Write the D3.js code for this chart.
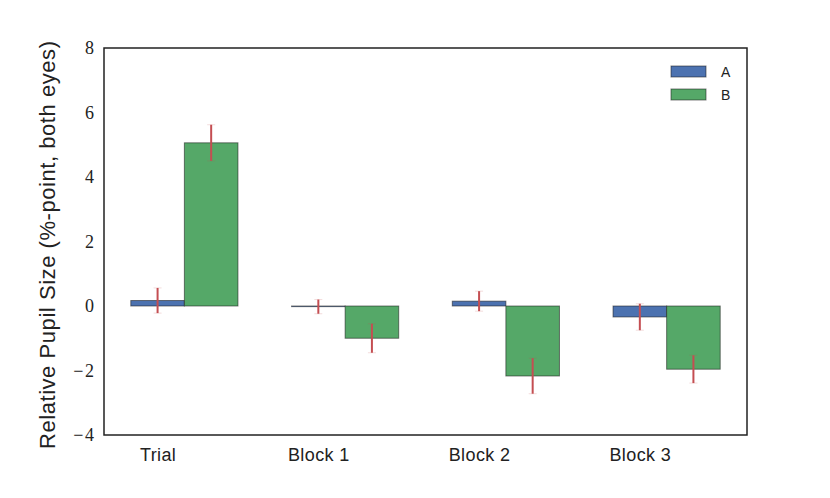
<!DOCTYPE html>
<html>
<head>
<meta charset="utf-8">
<script src="https://cdn.jsdelivr.net/npm/d3@7"></script>
<style>
  body { margin: 0; background: #fff; }
</style>
</head>
<body>
<script>
/* pupil size bar chart */

var categories = ["Trial", "Block 1", "Block 2", "Block 3"];
var seriesNames = ["A", "B"];
var valuesA = [0.17, -0.02, 0.15, -0.34];
var valuesB = [5.06, -1.0, -2.17, -1.96];
var errA = [0.39, 0.22, 0.31, 0.41];
var errB = [0.56, 0.45, 0.55, 0.43];
var yTicks = [-4, -2, 0, 2, 4, 6, 8];

var colors = ["#4C72B0", "#55A868"];
var errColor = "#C44E52";

var width = 830, height = 498;
var margin = {left: 104, right: 83, top: 48, bottom: 63};

var svg = d3.select("body").append("svg")
    .attr("width", width)
    .attr("height", height);

var w = 1 / 3;
var x = d3.scaleLinear()
    .domain([-w, categories.length - 1 + 2 * w])
    .range([margin.left, width - margin.right]);
var y = d3.scaleLinear()
    .domain([-4, 8])
    .range([height - margin.bottom, margin.top]);

var rows = [];
categories.forEach(function(c, i) {
    rows.push({i: i, s: 0, v: valuesA[i], e: errA[i]});
    rows.push({i: i, s: 1, v: valuesB[i], e: errB[i]});
});

svg.selectAll("rect.bar")
    .data(rows)
    .enter()
    .append("rect")
    .attr("class", "bar")
    .attr("x", function(d) { return x(d.i - w / 2 + d.s * w); })
    .attr("width", function(d) { return x(w) - x(0); })
    .attr("y", function(d) { return y(Math.max(0, d.v)); })
    .attr("height", function(d) { return Math.abs(y(d.v) - y(0)); })
    .attr("fill", function(d) { return colors[d.s]; })
    .attr("stroke", "#1a1a1a")
    .attr("stroke-opacity", 0.55)
    .attr("stroke-width", 1);

// error bars
var eb = svg.selectAll("g.err")
    .data(rows)
    .enter()
    .append("g")
    .attr("class", "err");

eb.append("line")
    .attr("x1", function(d) { return x(d.i + d.s * w); })
    .attr("x2", function(d) { return x(d.i + d.s * w); })
    .attr("y1", function(d) { return y(d.v + d.e); })
    .attr("y2", function(d) { return y(d.v - d.e); })
    .attr("stroke", errColor)
    .attr("stroke-width", 2);

[1, -1].forEach(function(sign) {
    eb.append("line")
        .attr("x1", function(d) { return x(d.i + d.s * w) - 4; })
        .attr("x2", function(d) { return x(d.i + d.s * w) + 4; })
        .attr("y1", function(d) { return y(d.v + sign * d.e); })
        .attr("y2", function(d) { return y(d.v + sign * d.e); })
        .attr("stroke", errColor)
        .attr("stroke-opacity", 0.2)
        .attr("stroke-width", 1);
});

// axes
var yAxis = svg.append("g")
    .attr("transform", "translate(" + margin.left + ",0)")
    .call(d3.axisLeft(y).tickValues(yTicks).tickSize(0).tickPadding(10)
        .tickFormat(function(d) { return d < 0 ? "\u2212\u200A" + Math.abs(d) : d; }));
yAxis.select(".domain").remove();
yAxis.selectAll("text")
    .style("font-family", "'Liberation Serif', 'DejaVu Serif', serif")
    .style("font-size", "18px")
    .style("fill", "#222");

var xAxis = svg.append("g")
    .attr("transform", "translate(0," + (height - margin.bottom) + ")")
    .call(d3.axisBottom(x).tickValues(d3.range(categories.length)).tickSize(0).tickPadding(13)
        .tickFormat(function(d) { return categories[d]; }));
xAxis.select(".domain").remove();
xAxis.selectAll("text")
    .style("font-family", "'Liberation Sans', Arial, sans-serif")
    .style("font-size", "18px")
    .style("letter-spacing", "0.4px")
    .style("fill", "#222");

svg.append("rect")
    .attr("x", margin.left)
    .attr("y", margin.top)
    .attr("width", width - margin.left - margin.right)
    .attr("height", height - margin.top - margin.bottom)
    .attr("fill", "none")
    .attr("stroke", "#222")
    .attr("stroke-width", 1.5);

svg.append("text")
    .attr("transform", "translate(55,245) rotate(-90)")
    .attr("text-anchor", "middle")
    .attr("textLength", 408)
    .attr("lengthAdjust", "spacing")
    .style("font-family", "'Liberation Sans', Arial, sans-serif")
    .style("font-size", "22px")
    .style("fill", "#222")
    .text("Relative Pupil Size (%-point, both eyes)");

// legend
var legend = svg.selectAll("g.legend")
    .data(seriesNames)
    .enter()
    .append("g")
    .attr("class", "legend")
    .attr("transform", function(d, i) { return "translate(671," + (66 + i * 23) + ")"; });

legend.append("rect")
    .attr("width", 35)
    .attr("height", 11)
    .attr("fill", function(d, i) { return colors[i]; })
    .attr("stroke", "#1a1a1a")
    .attr("stroke-opacity", 0.55);

legend.append("text")
    .attr("x", 50)
    .attr("y", 6)
    .attr("dy", "0.35em")
    .style("font-family", "'Liberation Sans', Arial, sans-serif")
    .style("font-size", "14px")
    .style("fill", "#222")
    .text(function(d) { return d; });
</script>
</body>
</html>
